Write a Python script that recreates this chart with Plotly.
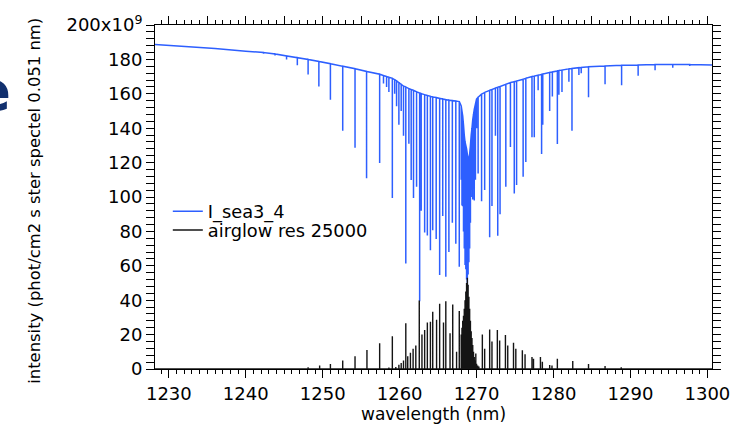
import plotly.graph_objects as go

# ---------------- data (intensity in units of 1e9) -------------
# continuum anchor points of the I_sea3_4 spectrum
blue_cont_wl = [1228.2, 1232.0, 1236.0, 1240.0, 1300.6]
blue_cont_val = [188.6, 187.6, 186.3, 184.8, 176.8]

# absorption lines of I_sea3_4: wavelength, local continuum, line bottom
blue_wl = [1242.3, 1243.8, 1245.3, 1246.7, 1248.1, 1249.5, 1251.0, 1252.6, 1254.2, 1255.7,
           1257.4, 1257.9, 1258.3, 1258.6, 1259.05, 1259.35, 1259.6, 1259.9, 1260.2, 1260.5,
           1260.8, 1261.2, 1261.5, 1261.8, 1262.2, 1262.6, 1262.8, 1263.25, 1263.6, 1264.0,
           1264.3, 1264.75, 1265.2, 1265.6, 1266.0, 1266.4, 1266.85, 1267.3, 1267.75,
           1268.0, 1268.1, 1268.2, 1268.3, 1268.4, 1268.5, 1268.6, 1268.7, 1268.8, 1268.9,
           1269.0, 1269.1, 1269.2, 1269.3, 1269.4, 1269.5, 1269.6, 1269.7, 1269.85, 1270.0,
           1270.2, 1270.65, 1271.05, 1271.7, 1272.0, 1272.45, 1272.75, 1273.05, 1273.8, 1274.4,
           1274.9, 1275.2, 1276.05, 1276.4, 1277.2, 1277.5, 1278.0, 1278.45, 1278.6, 1279.5,
           1279.85, 1280.5, 1280.7, 1281.1, 1282.0, 1282.4, 1283.3, 1283.6, 1284.55, 1286.7,
           1288.85, 1291.0, 1293.2, 1295.5, 1297.7]
blue_top = [184.0, 183.2, 182.0, 181.0, 180.0, 178.8, 177.5, 176.0, 174.6, 173.0,
            171.4, 170.6, 170.0, 169.6, 169.0, 168.2, 167.5, 166.5, 165.5, 164.5,
            164.0, 163.0, 162.5, 162.0, 161.2, 160.5, 160.2, 159.5, 159.0, 158.5,
            158.2, 157.8, 157.3, 157.0, 156.6, 156.3, 156.0, 155.8, 155.5,
            153.0, 150.0, 147.0, 142.0, 136.0, 132.0, 130.0, 128.0, 125.0, 122.0,
            122.0, 125.0, 130.0, 136.0, 140.0, 145.0, 148.0, 151.0, 154.0, 157.0,
            158.0, 159.8, 160.8, 162.0, 162.5, 163.3, 163.8, 164.2, 165.5, 166.5,
            167.0, 167.4, 168.5, 169.0, 170.0, 170.3, 170.8, 171.3, 171.5, 172.4,
            172.7, 173.3, 173.5, 173.8, 174.5, 174.7, 175.2, 175.3, 175.7, 176.2,
            176.6, 176.8, 177.0, 177.0, 177.0]
blue_bottom = [183.3, 182.3, 180.0, 176.6, 171.2, 164.2, 156.6, 138.5, 128.6, 110.9,
               119.8, 166.0, 164.0, 161.0, 99.4, 160.0, 152.8, 142.0, 150.0, 135.6,
               61.3, 130.9, 109.9, 99.4, 106.0, 39.4, 92.0, 79.4, 77.6, 69.0,
               80.6, 75.6, 54.7, 89.0, 53.7, 68.0, 85.0, 72.8, 59.4,
               110.0, 95.0, 94.6, 80.0, 70.0, 60.4, 58.0, 52.0, 43.0, 55.0,
               62.0, 70.0, 85.0, 100.0, 104.0, 98.5, 105.0, 98.0, 110.0, 140.0,
               113.7, 97.5, 104.0, 76.6, 94.7, 135.6, 77.5, 90.0, 106.0, 129.0,
               102.0, 107.0, 111.8, 120.4, 134.7, 134.7, 162.0, 125.0, 142.0, 150.0,
               158.5, 130.8, 159.4, 161.0, 167.0, 138.5, 171.0, 172.0, 158.0, 165.5,
               165.0, 170.5, 173.7, 175.2, 176.2]

# airglow emission lines: wavelength, peak
glow_base_wl = [1228.2, 1300.6]
glow_wl = [1246.7, 1248.1, 1249.6, 1251.0, 1252.6, 1254.2, 1255.75, 1257.4, 1258.6, 1259.05,
           1259.5, 1259.9, 1260.2, 1260.5, 1260.8, 1261.05, 1261.4, 1261.75, 1262.1, 1262.55,
           1262.9, 1263.25, 1263.6, 1264.0, 1264.3, 1264.8, 1265.2, 1265.7, 1266.0, 1266.55,
           1266.9, 1267.4, 1267.75,
           1268.0, 1268.1, 1268.2, 1268.3, 1268.4, 1268.5, 1268.6, 1268.7, 1268.8, 1268.9,
           1269.0, 1269.1, 1269.2, 1269.3, 1269.4, 1269.5, 1269.6, 1269.7, 1269.8, 1269.9,
           1270.0, 1270.15, 1270.3, 1270.75, 1271.05, 1271.7, 1272.0, 1272.7, 1273.0, 1273.75,
           1274.05, 1274.8, 1275.1, 1275.95, 1276.3, 1277.2, 1277.4, 1278.3, 1278.55, 1279.5,
           1279.8, 1280.5, 1282.5, 1284.55, 1286.7, 1288.8]
glow_peak = [0.5, 1.0, 2.0, 2.9, 5.0, 7.4, 11.0, 15.0, 0.8, 19.0,
             1.2, 2.5, 3.5, 5.0, 26.6, 7.4, 9.5, 11.8, 13.7, 39.8,
             20.0, 22.7, 27.0, 27.5, 33.3, 28.6, 37.9, 27.0, 39.4, 20.8,
             37.5, 10.0, 33.7,
             20.0, 24.0, 28.0, 31.0, 35.0, 40.0, 45.0, 50.0, 53.0, 49.0,
             42.0, 35.0, 28.0, 22.0, 18.0, 14.0, 10.0, 7.0, 5.0, 9.0,
             3.0, 2.0, 1.5, 20.0, 11.8, 23.0, 16.0, 22.7, 16.6, 19.8,
             13.7, 15.2, 11.8, 10.9, 8.6, 7.0, 6.0, 7.0, 4.2, 2.3,
             2.0, 6.0, 4.6, 2.9, 1.7, 1.0]

x_tick_vals = [1230, 1240, 1250, 1260, 1270, 1280, 1290, 1300]
y_tick_vals = [0, 20, 40, 60, 80, 100, 120, 140, 160, 180, 200]
y_tick_text = ["0", "20", "40", "60", "80", "100", "120", "140", "160", "180",
               "200x10<sup>9</sup>"]


def spectrum(anchor_x, anchor_y, line_x, line_hi, line_lo):
    pts = [(x, 0, y) for x, y in zip(anchor_x, anchor_y)]
    for x, hi, lo in zip(line_x, line_hi, line_lo):
        pts.append((x, 1, hi))
        pts.append((x, 2, lo))
        pts.append((x, 3, hi))
    pts.sort(key=lambda p: (p[0], p[1]))
    return [p[0] for p in pts], [p[2] for p in pts]


bx, by = spectrum(blue_cont_wl, blue_cont_val, blue_wl, blue_top, blue_bottom)
gx, gy = spectrum(glow_base_wl, [0.0] * len(glow_base_wl), glow_wl,
                  [0.0] * len(glow_wl), glow_peak)

FONT = "DejaVu Sans"

fig = go.Figure()
fig.add_trace(go.Scatter(x=bx, y=by, mode="lines", name="I_sea3_4", legend="legend",
                         line=dict(color="rgb(45,95,255)", width=1.5)))
fig.add_trace(go.Scatter(x=gx, y=gy, mode="lines", name="airglow res 25000",
                         legend="legend2",
                         line=dict(color="rgb(20,20,20)", width=1.4)))
fig.add_trace(go.Scatter(x=[1230], y=[0], xaxis="x2", mode="lines", showlegend=False,
                         hoverinfo="skip", line=dict(width=0)))

axis_common = dict(showline=True, linecolor="black", linewidth=1, ticks="outside",
                   tickcolor="black", tickwidth=1, showgrid=False, zeroline=False)
legend_common = dict(xanchor="left", yanchor="middle", bgcolor="rgba(0,0,0,0)",
                     font=dict(size=17.8, family=FONT))

fig.update_layout(
    width=742, height=425,
    margin=dict(l=155, r=24, t=19, b=56),
    paper_bgcolor="white", plot_bgcolor="white",
    font=dict(family=FONT, color="black", size=17),
    showlegend=True,
    legend=dict(x=0.023, y=0.457, **legend_common),
    legend2=dict(x=0.023, y=0.403, **legend_common),
    xaxis=dict(range=[1228.2, 1300.6], tickvals=x_tick_vals, ticklen=8,
               tickfont=dict(size=18, family=FONT),
               minor=dict(dtick=1, tick0=1230, ticklen=4, ticks="outside",
                          tickcolor="black"),
               **axis_common),
    xaxis2=dict(matches="x", overlaying="x", side="top", anchor="y",
                tickmode="linear", tick0=1230, dtick=5, ticklen=8, showticklabels=False,
                minor=dict(dtick=1, tick0=1230, ticklen=4, ticks="outside",
                           tickcolor="black"),
                **axis_common),
    yaxis=dict(range=[0, 200], tickvals=y_tick_vals, ticktext=y_tick_text, ticklen=8,
               tickfont=dict(size=18, family=FONT), mirror="allticks",
               minor=dict(dtick=4, ticklen=4, ticks="outside", tickcolor="black"),
               **axis_common),
    annotations=[
        dict(text="wavelength (nm)", xref="paper", yref="paper", x=0.5, y=0,
             yshift=-45, xanchor="center", yanchor="middle", showarrow=False,
             font=dict(size=17, family=FONT)),
        dict(text="intensity (phot/cm2 s ster spectel 0.051 nm)", xref="paper",
             yref="paper", x=0, xshift=-120, y=0.489, textangle=-90,
             xanchor="center", yanchor="middle", showarrow=False,
             font=dict(size=16.4, family=FONT)),
        dict(text="<b>e</b>", xref="paper", yref="paper", x=0, xshift=-142, y=0.81,
             xanchor="right", yanchor="middle", showarrow=False,
             font=dict(size=56, family=FONT, color="#12306e")),
    ],
)

fig.write_html("out.html", config={"displayModeBar": False},
               post_script="document.body.style.margin='0';")
